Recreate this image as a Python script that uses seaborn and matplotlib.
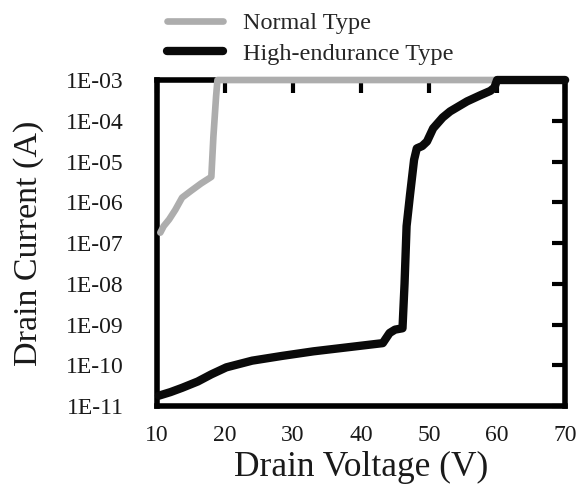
import matplotlib
matplotlib.use("Agg")
import matplotlib.pyplot as plt
import seaborn as sns
import pandas as pd

# values
normal_v = [10.5, 11.0, 11.8, 12.7, 13.7, 15.0, 16.5, 18.0, 18.3, 18.7, 18.9, 25.0, 35.0, 45.0, 55.0, 60.0]
normal_i = [1.8e-07, 2.6e-07, 3.8e-07, 6.5e-07, 1.3e-06, 1.9e-06, 2.9e-06, 4.2e-06, 4.0e-05, 4.0e-04, 1.0e-03,
            1.0e-03, 1.0e-03, 1.0e-03, 1.0e-03, 1.0e-03]

high_v = [10.3, 12.0, 13.7, 16.0, 18.0, 20.2, 24.0, 28.4, 33.0, 38.3, 43.2, 44.2, 45.0, 46.1, 46.4, 46.7,
          47.2, 47.8, 48.2, 49.0, 49.7, 50.6, 52.0, 53.1, 55.6, 57.5, 59.0, 59.6, 60.0, 65.0, 70.0]
high_i = [1.8e-11, 2.2e-11, 2.8e-11, 4.0e-11, 6.0e-11, 8.9e-11, 1.3e-10, 1.7e-10, 2.2e-10, 2.8e-10, 3.5e-10,
          6.2e-10, 7.5e-10, 8.1e-10, 1.0e-08, 2.6e-07, 1.5e-06, 1.1e-05, 2.1e-05, 2.4e-05, 3.1e-05,
          6.5e-05, 1.2e-04, 1.7e-04, 3.0e-04, 4.2e-04, 5.4e-04, 6.5e-04, 1.0e-03, 1.0e-03, 1.0e-03]

x_ticks = [10, 20, 30, 40, 50, 60, 70]
y_ticks = [1e-11, 1e-10, 1e-09, 1e-08, 1e-07, 1e-06, 1e-05, 1e-04, 1e-03]
y_labels = ["1E-11", "1E-10", "1E-09", "1E-08", "1E-07", "1E-06", "1E-05", "1E-04", "1E-03"]

df = pd.concat([
    pd.DataFrame({"v": normal_v, "i": normal_i, "type": "Normal Type"}),
    pd.DataFrame({"v": high_v, "i": high_i, "type": "High-endurance Type"}),
])

colors = {"Normal Type": "#adadad", "High-endurance Type": "#0a0a0a"}
widths = {"Normal Type": 4.8, "High-endurance Type": 6.0}

sns.set_theme(style="white")
plt.rcParams["font.family"] = ["Liberation Serif", "DejaVu Serif"]

fig = plt.figure(figsize=(5.79, 4.97), dpi=100)
ax = fig.add_axes([0.271, 0.183, 0.705, 0.656])

sns.lineplot(data=df, x="v", y="i", hue="type", size="type", sort=False, estimator=None,
             palette=colors, sizes=widths, ax=ax, legend=False, clip_on=False, zorder=5)

ax.set_yscale("log")
ax.set_xlim(10, 70)
ax.set_ylim(1e-11, 1e-03)
ax.set_xticks(x_ticks)
ax.set_yticks(y_ticks)
ax.set_yticklabels(y_labels)
ax.minorticks_off()
ax.tick_params(axis="both", which="major", direction="in", length=9.5, width=3,
               top=True, right=True, labelsize=17, color="black", labelcolor="#1a1a1a")
ax.tick_params(axis="x", pad=14)
ax.tick_params(axis="y", pad=24)
for s in ax.spines.values():
    s.set_linewidth(4)
    s.set_color("black")

ax.set_xlabel("Drain Voltage (V)", fontsize=25.5, color="#1a1a1a", labelpad=3)
ax.set_ylabel("Drain Current (A)", fontsize=24.5, color="#1a1a1a", labelpad=16)

handles = [plt.Line2D([], [], color=colors[k], lw=widths[k]) for k in ["Normal Type", "High-endurance Type"]]
fig.legend(handles, ["Normal Type", "High-endurance Type"], loc="upper left",
           bbox_to_anchor=(0.288, 0.975), frameon=False, fontsize=17.5, handlelength=2.3,
           handletextpad=0.85, labelspacing=0.35, borderaxespad=0, borderpad=0)

fig.savefig("out.png", dpi=100)
